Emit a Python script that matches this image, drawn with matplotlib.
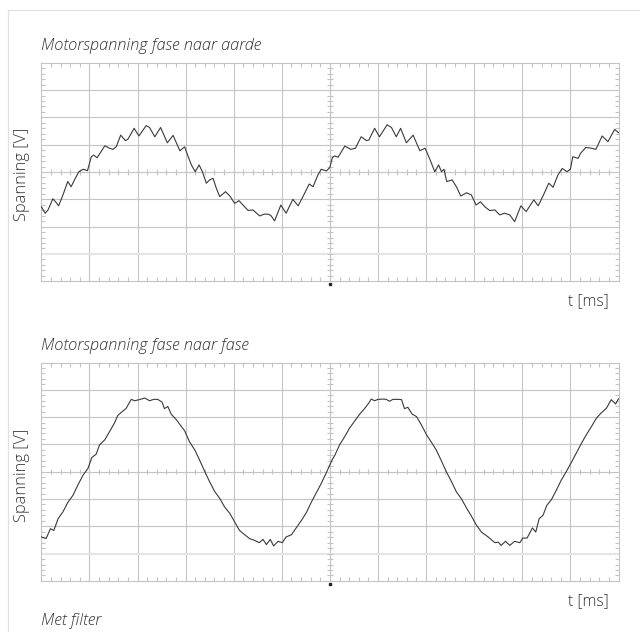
import numpy as np
import matplotlib.pyplot as plt
from matplotlib.lines import Line2D
from matplotlib.collections import LineCollection

plt.rcParams['font.family'] = ['Open Sans', 'DejaVu Sans']

# time axis in scope divisions (12 across), voltage in divisions (8 high)
t_aarde = [0.00, 0.08, 0.14, 0.24, 0.31, 0.36, 0.45, 0.55, 0.62, 0.69,
           0.78, 0.87, 0.96, 1.04, 1.09, 1.16, 1.23, 1.32, 1.42, 1.49,
           1.56, 1.65, 1.75, 1.80, 1.93, 2.03, 2.18, 2.25, 2.36, 2.48,
           2.62, 2.74, 2.88, 2.98, 3.05, 3.12, 3.20, 3.28, 3.35, 3.43,
           3.50, 3.57, 3.64, 3.71, 3.83, 3.92, 4.02, 4.11, 4.21, 4.30,
           4.40, 4.54, 4.64, 4.73, 4.78, 4.85, 4.98, 5.09, 5.23, 5.34,
           5.44, 5.57, 5.65, 5.75, 5.82, 5.93, 6.00, 6.05, 6.10, 6.17,
           6.31, 6.43, 6.53, 6.65, 6.76, 6.81, 6.93, 7.03, 7.19, 7.28,
           7.38, 7.47, 7.59, 7.73, 7.87, 7.98, 8.08, 8.18, 8.26, 8.32,
           8.37, 8.43, 8.54, 8.63, 8.72, 8.84, 8.94, 9.04, 9.13, 9.22,
           9.32, 9.43, 9.53, 9.63, 9.74, 9.84, 9.97, 10.08, 10.24, 10.33,
           10.43, 10.55, 10.64, 10.74, 10.83, 10.93, 11.00, 11.05, 11.16, 11.21,
           11.32, 11.44, 11.53, 11.66, 11.78, 11.92, 12.00]
u_aarde = [-1.27, -1.51, -1.39, -0.98, -1.12, -1.24, -0.84, -0.35, -0.54, -0.29,
           0.01, 0.10, 0.05, 0.56, 0.62, 0.52, 0.71, 0.96, 0.87, 0.83,
           0.93, 1.35, 1.15, 1.20, 1.60, 1.32, 1.70, 1.63, 1.29, 1.63,
           1.07, 1.34, 0.78, 0.92, 0.58, 0.26, 0.01, 0.26, 0.01, -0.41,
           -0.29, -0.23, -0.60, -0.90, -0.72, -0.88, -1.15, -1.05, -1.24, -1.41,
           -1.39, -1.61, -1.54, -1.55, -1.61, -1.79, -1.21, -1.51, -1.00, -1.24,
           -0.90, -0.44, -0.54, -0.11, 0.10, 0.04, 0.17, 0.53, 0.59, 0.54,
           0.95, 0.83, 0.87, 1.29, 1.15, 1.17, 1.60, 1.29, 1.73, 1.63,
           1.29, 1.60, 1.07, 1.35, 0.78, 0.87, 0.46, 0.01, 0.26, 0.01,
           0.10, -0.35, -0.29, -0.54, -0.88, -0.76, -0.84, -1.21, -1.09, -1.27,
           -1.41, -1.39, -1.57, -1.51, -1.57, -1.82, -1.24, -1.45, -1.02, -1.24,
           -0.88, -0.41, -0.56, -0.11, 0.13, 0.01, 0.10, 0.56, 0.50, 0.68,
           0.90, 0.87, 0.83, 1.32, 1.11, 1.56, 1.44]

t_fase = [0.00, 0.10, 0.19, 0.26, 0.35, 0.45, 0.55, 0.66, 0.76, 0.87,
          0.97, 1.05, 1.14, 1.21, 1.32, 1.42, 1.52, 1.59, 1.70, 1.76,
          1.87, 1.94, 2.04, 2.15, 2.25, 2.34, 2.42, 2.51, 2.56, 2.63,
          2.70, 2.81, 2.91, 2.98, 3.08, 3.19, 3.29, 3.40, 3.50, 3.60,
          3.71, 3.81, 3.92, 4.02, 4.12, 4.23, 4.33, 4.44, 4.53, 4.61,
          4.68, 4.76, 4.83, 4.92, 5.01, 5.09, 5.20, 5.30, 5.41, 5.51,
          5.61, 5.72, 5.82, 5.93, 6.05, 6.10, 6.20, 6.31, 6.41, 6.52,
          6.62, 6.72, 6.81, 6.86, 6.93, 7.00, 7.11, 7.17, 7.24, 7.31,
          7.42, 7.49, 7.55, 7.62, 7.71, 7.80, 7.90, 8.01, 8.11, 8.21,
          8.32, 8.42, 8.53, 8.63, 8.73, 8.84, 8.94, 9.04, 9.15, 9.29,
          9.43, 9.50, 9.56, 9.65, 9.74, 9.84, 9.95, 10.01, 10.10, 10.21,
          10.28, 10.35, 10.43, 10.51, 10.60, 10.71, 10.81, 10.92, 11.02, 11.12,
          11.23, 11.33, 11.44, 11.54, 11.64, 11.75, 11.85, 11.94, 12.00]
u_fase = [-2.39, -2.45, -2.09, -2.15, -1.72, -1.47, -1.13, -0.86, -0.49, -0.12,
          0.12, 0.52, 0.64, 0.98, 1.17, 1.47, 1.78, 2.06, 2.23, 2.31,
          2.65, 2.60, 2.64, 2.70, 2.60, 2.65, 2.65, 2.55, 2.31, 2.39,
          2.11, 1.90, 1.66, 1.50, 1.10, 0.80, 0.43, 0.00, -0.37, -0.71,
          -0.98, -1.29, -1.53, -1.84, -2.15, -2.31, -2.45, -2.52, -2.60, -2.48,
          -2.67, -2.48, -2.72, -2.55, -2.60, -2.39, -2.31, -2.06, -1.78, -1.50,
          -1.13, -0.76, -0.43, -0.02, 0.45, 0.59, 0.98, 1.29, 1.60, 1.87,
          2.11, 2.31, 2.52, 2.66, 2.60, 2.65, 2.66, 2.65, 2.58, 2.65,
          2.65, 2.64, 2.31, 2.36, 2.11, 2.02, 1.72, 1.35, 1.08, 0.80,
          0.39, 0.00, -0.37, -0.74, -0.98, -1.33, -1.62, -1.94, -2.21, -2.39,
          -2.60, -2.58, -2.70, -2.55, -2.70, -2.55, -2.60, -2.43, -2.43, -2.06,
          -2.21, -1.72, -1.60, -1.23, -1.04, -0.67, -0.31, 0.02, 0.34, 0.67,
          1.04, 1.35, 1.66, 1.96, 2.15, 2.33, 2.64, 2.48, 2.67]

titles = ['Motorspanning fase naar aarde', 'Motorspanning fase naar fase']
grid_col = '#c4c4c4'
text_col = '#333333'


def draw_scope(ax, t, u):
    ax.set_xlim(0, 12)
    ax.set_ylim(-4, 4)
    for x in np.arange(1, 12):
        ax.axvline(x, color=grid_col, lw=0.8, zorder=1)
    for y in np.arange(-3, 4):
        if y == -3:
            ax.axhline(y, color='#e4e4e4', lw=1.5, zorder=1)
        else:
            ax.axhline(y, color=grid_col, lw=0.8, zorder=1)

    # small marks on the centre cross
    segs = [[(x, -0.1), (x, 0.1)] for x in np.arange(0, 12.01, 0.2)]
    segs += [[(5.94, y), (6.06, y)] for y in np.arange(-4, 4.01, 0.2)]
    ax.add_collection(LineCollection(segs, colors=grid_col, lw=0.8, zorder=1))

    ax.set_xticks(np.arange(0, 12.01, 1))
    ax.set_xticks(np.arange(0, 12.01, 0.2), minor=True)
    ax.set_yticks(np.arange(-4, 4.01, 1))
    ax.set_yticks(np.arange(-4, 4.01, 0.2), minor=True)
    ax.tick_params(which='both', direction='in', top=True, right=True,
                   labelbottom=False, labelleft=False, color=grid_col)
    ax.tick_params(which='major', length=0)
    ax.tick_params(which='minor', length=3, width=0.8)
    for s in ax.spines.values():
        s.set_color(grid_col)
        s.set_linewidth(0.8)

    ax.plot(t, u, color='#3a3a3a', lw=0.8, zorder=3)
    ax.plot([6], [-4.1], marker='s', ms=1.6, color='#222222', clip_on=False)


fig = plt.figure(figsize=(6.4, 6.32), dpi=100)

ax1 = fig.add_axes([41.3 / 640, 1 - 281.2 / 632, 577.2 / 640, 218.4 / 632])
ax2 = fig.add_axes([41.3 / 640, 1 - 580.9 / 632, 577.2 / 640, 218.4 / 632])
draw_scope(ax1, t_aarde, u_aarde)
draw_scope(ax2, t_fase, u_fase)

# panel texts
txt = dict(color=text_col, fontweight='light')
fig.text(41 / 640, 1 - 50 / 632, titles[0], style='italic', fontsize=11.8,
         va='baseline', **txt)
fig.text(41 / 640, 1 - 350 / 632, titles[1], style='italic', fontsize=11.8,
         va='baseline', **txt)
fig.text(41 / 640, 1 - 625 / 632, 'Met filter', style='italic', fontsize=11.8,
         va='baseline', **txt)
for yc in (174, 475):
    fig.text(22 / 640, 1 - yc / 632, 'Spanning [V]', rotation=90, fontsize=11.8,
             ha='center', va='center', **txt)
for yb in (305, 605):
    fig.text(609 / 640, 1 - yb / 632, 't [ms]', fontsize=11.3,
             ha='right', va='baseline', **txt)

# thin page frame, top and left
fig.add_artist(Line2D([8 / 640, 1], [1 - 10 / 632, 1 - 10 / 632],
                      color='#e0e0e0', lw=0.8))
fig.add_artist(Line2D([8 / 640, 8 / 640], [0, 1 - 10 / 632],
                      color='#e0e0e0', lw=0.8))

fig.savefig('out.png', dpi=100)
